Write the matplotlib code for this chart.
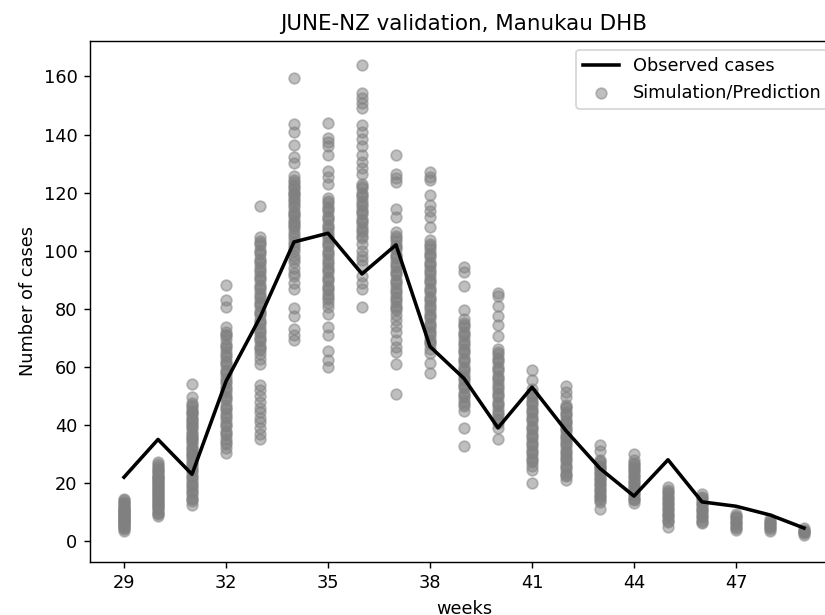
import matplotlib
matplotlib.use("Agg")
import matplotlib.pyplot as plt

weeks = list(range(29, 50))
observed = [22, 35, 23, 55, 77, 103, 106, 92, 102, 67, 56, 39, 53, 38, 25, 15.5, 28, 13.5, 12, 9, 4.5]

sim = {
    29: [3.5, 4.2, 4.8, 5.3, 5.9, 6.4, 7.0, 7.5, 8.1, 8.6, 9.2, 9.7, 10.3, 10.8, 11.4, 12.0, 12.6, 13.3,
         14.0, 14.6, 5.5, 6.8, 7.7, 8.9, 9.9, 11.1, 4.5, 6.1, 7.3, 8.4, 9.5, 10.6, 11.8, 13.0],
    30: [8.5, 9.3, 10.1, 10.9, 11.6, 12.4, 13.2, 14.0, 14.8, 15.5, 16.3, 17.1, 17.9, 18.6, 19.4, 20.2, 21.0,
         21.8, 22.5, 23.3, 24.1, 24.9, 25.7, 26.4, 27.2, 13.5, 16.8, 19.9, 22.0, 9.7, 11.3, 12.8, 14.4,
         15.9, 17.5, 19.0, 20.6, 22.2, 23.7, 25.3],
    31: [54.2, 49.5, 47.6, 46.3, 45.1, 43.8, 42.5, 41.3, 40.0, 38.8, 37.5, 36.2, 35.0, 33.7, 32.5, 31.2, 30.0,
         28.7, 27.5, 26.2, 25.0, 23.7, 22.5, 21.2, 20.0, 18.7, 17.5, 16.2, 15.0, 13.7, 12.3, 30.5, 35.5,
         40.6, 44.0, 46.9, 44.4, 41.9, 39.4, 36.9, 34.4, 31.9, 29.4, 26.9, 24.4, 21.9, 19.4, 16.9, 14.4],
    32: [88.1, 83.0, 80.5, 73.7, 72.0, 70.8, 69.5, 68.0, 66.5, 65.0, 63.5, 62.0, 60.5, 59.0, 57.5, 56.0, 54.5,
         53.0, 51.5, 50.0, 48.5, 47.0, 45.5, 44.0, 42.5, 41.0, 39.5, 38.0, 36.5, 35.0, 33.5, 32.0, 30.5,
         71.0, 64.0, 46.0, 40.0, 67.2, 61.2, 58.2, 55.2, 52.2, 49.2, 43.2, 37.2, 34.2],
    33: [115.3, 104.8, 103.3, 101.8, 100.3, 98.8, 97.3, 95.8, 94.3, 92.8, 91.3, 89.8, 88.3, 86.8, 85.3, 83.8,
         82.3, 80.8, 79.3, 77.8, 76.3, 74.8, 73.3, 71.8, 70.3, 68.8, 67.3, 65.8, 64.3, 62.8, 61.0, 53.9,
         52.0, 50.0, 48.0, 46.0, 44.5, 42.5, 41.0, 39.0, 37.0, 35.2, 102.5, 99.5, 96.5, 93.5, 90.5, 87.5,
         84.5, 81.5, 78.5, 75.5, 72.5, 69.5, 66.5],
    34: [159.4, 143.6, 141.0, 136.4, 132.3, 130.1, 125.7, 124.2, 122.7, 121.2, 119.7, 118.2, 116.7, 115.2,
         113.7, 112.2, 110.7, 109.2, 107.7, 106.5, 104.4, 102.0, 100.0, 98.0, 96.0, 94.0, 92.3, 91.2, 89.0,
         86.8, 80.3, 77.5, 73.1, 71.0, 69.3, 120.0, 117.5, 112.0, 108.5, 123.5, 121.8, 119.0, 115.8, 113.0,
         110.0, 105.5, 103.0, 101.0, 97.0],
    35: [144.0, 138.9, 137.5, 136.1, 132.8, 127.4, 125.2, 123.0, 118.0, 116.5, 115.0, 113.5, 112.0, 110.5,
         109.0, 107.5, 106.0, 104.5, 103.0, 101.5, 100.0, 98.5, 97.0, 95.5, 94.0, 92.5, 91.0, 89.5, 88.0,
         86.5, 85.0, 83.5, 82.0, 80.5, 78.1, 73.7, 71.0, 65.5, 62.5, 60.0, 117.2, 114.2, 111.2, 108.2,
         105.2, 102.2, 99.2, 96.2, 93.2, 90.2, 87.2, 84.2],
    36: [163.9, 154.2, 152.5, 151.0, 149.3, 143.2, 141.0, 138.5, 136.1, 132.8, 130.5, 128.5, 126.3, 123.0,
         121.5, 120.0, 118.5, 117.0, 115.5, 114.0, 112.5, 111.0, 109.5, 108.0, 106.5, 105.0, 102.2, 100.0,
         98.0, 96.7, 95.0, 91.2, 89.0, 86.8, 80.5, 122.2, 119.2, 116.2, 113.2, 110.2, 107.2, 104.2],
    37: [132.8, 126.5, 125.0, 123.7, 114.5, 111.6, 106.5, 105.0, 103.5, 102.0, 100.5, 99.0, 97.5, 96.0, 94.5,
         93.0, 91.5, 90.0, 88.5, 87.0, 85.5, 84.0, 82.5, 81.0, 79.5, 78.0, 76.3, 74.0, 72.0, 69.4, 67.0,
         65.0, 60.9, 50.6, 104.2, 101.2, 98.2, 95.2, 92.2, 89.2, 86.2, 83.2, 80.2],
    38: [127.1, 125.5, 124.2, 119.1, 115.7, 113.5, 111.7, 108.3, 103.7, 102.2, 100.7, 99.2, 97.7, 96.2, 94.7,
         93.2, 91.7, 90.2, 88.7, 87.2, 85.7, 84.2, 82.7, 81.2, 79.7, 78.2, 76.7, 75.2, 73.7, 72.2, 70.7,
         69.2, 67.7, 66.2, 64.9, 61.4, 58.0, 101.5, 98.5, 95.5, 92.5, 89.5, 86.5, 83.5, 80.5, 77.5, 74.5,
         71.5, 68.5],
    39: [94.4, 92.6, 87.9, 79.6, 76.6, 75.1, 73.6, 72.1, 70.6, 69.1, 67.6, 66.1, 64.6, 63.1, 61.6, 60.1, 58.6,
         57.1, 55.6, 54.1, 52.6, 51.1, 49.6, 48.1, 46.6, 44.7, 38.8, 32.9, 74.3, 71.3, 68.3, 65.3, 62.3,
         59.3, 56.3, 53.3, 50.3, 47.3],
    40: [85.5, 84.3, 80.8, 77.5, 74.3, 70.7, 66.0, 64.5, 63.0, 61.5, 60.0, 58.5, 57.0, 55.5, 54.0, 52.5, 51.0,
         49.5, 48.0, 46.5, 45.0, 43.5, 42.0, 40.5, 38.8, 35.2, 65.2, 62.2, 59.2, 56.2, 53.2, 50.2, 47.2,
         44.2, 41.2],
    41: [58.9, 55.3, 52.4, 51.0, 49.6, 48.2, 46.8, 45.4, 44.0, 42.6, 41.2, 39.8, 38.4, 37.0, 35.6, 34.2, 32.8,
         31.4, 30.0, 28.6, 27.2, 25.8, 24.6, 19.9, 50.3, 47.5, 44.7, 41.9, 39.1, 36.3, 33.5, 30.7, 27.9],
    42: [53.5, 51.5, 49.5, 47.0, 45.7, 44.4, 43.1, 41.8, 40.5, 39.2, 37.9, 36.6, 35.3, 34.0, 32.7, 31.4, 30.1,
         28.8, 27.5, 26.2, 24.9, 23.6, 22.3, 21.0, 46.3, 43.7, 41.1, 38.5, 35.9, 33.3, 30.7, 28.1, 25.5,
         22.9],
    43: [33.0, 31.0, 28.0, 27.0, 26.0, 25.0, 24.0, 23.0, 22.0, 21.0, 20.0, 19.0, 18.0, 17.0, 16.0, 15.0, 14.0,
         11.0, 27.5, 25.5, 23.5, 21.5, 19.5, 17.5, 15.5, 13.5],
    44: [30.0, 28.0, 27.0, 26.0, 25.0, 24.0, 23.0, 22.0, 21.0, 20.0, 19.0, 18.0, 17.0, 16.0, 15.0, 14.0, 13.0,
         26.5, 24.5, 22.5, 20.5, 18.5, 16.5, 14.5],
    45: [18.5, 17.5, 16.5, 15.5, 14.5, 13.5, 12.5, 11.5, 10.5, 9.5, 8.5, 7.5, 6.6, 5.0, 17.0, 15.0, 13.0,
         11.0, 9.0, 7.0],
    46: [16.2, 15.2, 14.2, 13.2, 12.2, 11.2, 10.2, 9.2, 8.2, 7.2, 6.2, 14.7, 12.7, 10.7, 8.7, 6.7],
    47: [9.4, 8.6, 7.8, 7.0, 6.2, 5.4, 4.6, 3.8, 8.2, 6.6, 5.0],
    48: [7.5, 6.8, 6.1, 5.4, 4.7, 4.0, 3.4, 6.4, 5.0],
    49: [4.5, 3.9, 3.3, 2.7, 2.1, 3.6, 3.0],
}

plt.rcParams['font.size'] = 10
fig = plt.figure(figsize=(825 / 128, 615 / 128), dpi=128)
ax = fig.add_axes([90 / 825, (615 - 562) / 615, 748 / 825, 521 / 615])

ax.plot(weeks, observed, color='black', lw=2, label='Observed cases', zorder=3)
first = True
for w in weeks:
    vals = sim[w]
    ax.scatter([w] * len(vals), vals, color='grey', alpha=0.5, s=36,
               label='Simulation/Prediction' if first else None, zorder=2)
    first = False

ax.set_xlim(28, 50)
ax.set_ylim(-7.2, 172.2)
ax.set_xticks(list(range(29, 50, 3)))
ax.set_yticks(list(range(0, 161, 20)))
ax.set_xlabel('weeks')
ax.set_ylabel('Number of cases')
ax.set_title('JUNE-NZ validation, Manukau DHB')
ax.legend(loc='upper right')

fig.savefig('out.png', dpi=128)
